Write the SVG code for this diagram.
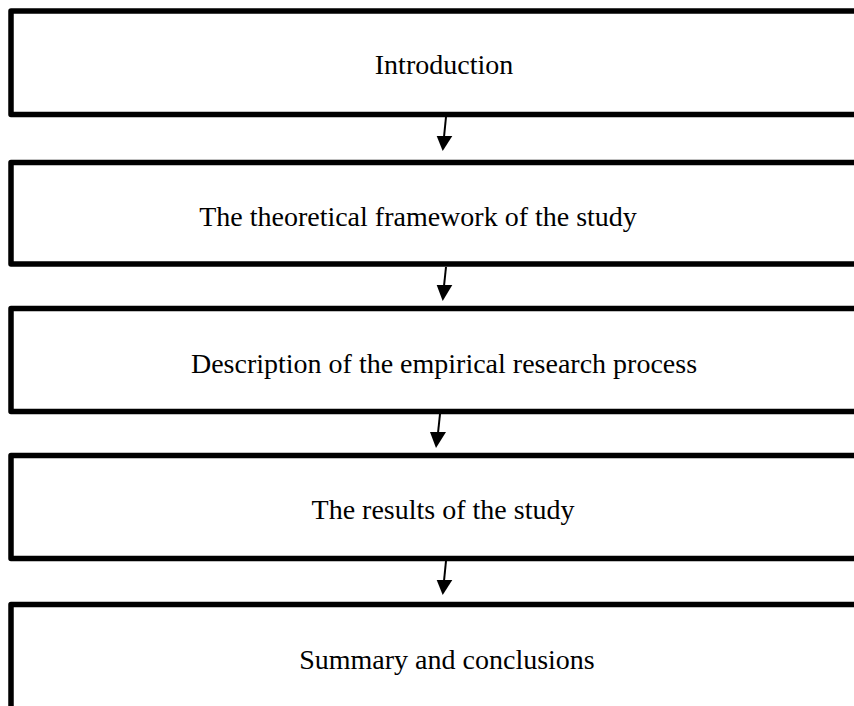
<svg xmlns="http://www.w3.org/2000/svg" width="854" height="706" viewBox="0 0 854 706">
<style>
.box{fill:#fff;stroke:#000;stroke-width:5.5;stroke-linejoin:round}
.t{font-family:"Liberation Serif","Times New Roman",serif;font-size:28px;fill:#000;text-anchor:middle}
.ln{stroke:#000;stroke-width:2;fill:none}
.hd{fill:#000;stroke:none}
</style>
<rect width="854" height="706" fill="#fff"/>
<g id="n1"><rect class="box" x="11" y="11" width="900" height="103.5"/><text class="t" x="444" y="74">Introduction</text></g>
<g id="n2"><rect class="box" x="11" y="162.5" width="900" height="101.5"/><text class="t" x="418" y="226">The theoretical framework of the study</text></g>
<g id="n3"><rect class="box" x="11" y="308.5" width="900" height="103"/><text class="t" x="444" y="373">Description of the empirical research process</text></g>
<g id="n4"><rect class="box" x="11" y="455.5" width="900" height="103"/><text class="t" x="443" y="519">The results of the study</text></g>
<g id="n5"><rect class="box" x="11" y="604.5" width="900" height="200"/><text class="t" x="447" y="669">Summary and conclusions</text></g>
<g id="connectors">
<line class="ln" x1="446" y1="117" x2="444" y2="137"/><polygon class="hd" points="436.7,136 452.3,136 442.7,151"/>
<line class="ln" x1="446" y1="267" x2="444" y2="286"/><polygon class="hd" points="436.7,285 452.3,285 442.7,301"/>
<line class="ln" x1="440" y1="414" x2="438" y2="433"/><polygon class="hd" points="430,432 446,432 436,448"/>
<line class="ln" x1="446" y1="561" x2="444" y2="581"/><polygon class="hd" points="436.7,580 452.3,580 442.7,595"/>
</g>
</svg>
